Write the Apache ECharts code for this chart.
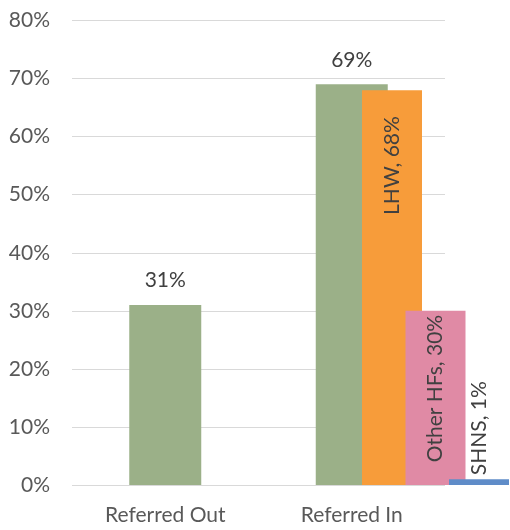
<!DOCTYPE html>
<html>
<head>
<meta charset="utf-8">
<script src="https://cdn.jsdelivr.net/npm/echarts@6/dist/echarts.min.js"></script>
<style>
html,body{margin:0;padding:0;background:#fff;}
#chart{width:510px;height:530px;}
</style>
</head>
<body>
<div id="chart"></div>
<script>
const categories = ['Referred Out', 'Referred In'];
const referralValues = [31, 69];
const breakdownNames = ['LHW', 'Other HFs', 'SHNS'];
const breakdownValues = [68, 30, 1];
const yTicks = [0, 10, 20, 30, 40, 50, 60, 70, 80];

const FONT = 'Lato';
const FS = 21;
const breakdownColors = ['#F79C3A', '#E08AA5', '#5F8CC8'];
const breakdownLabel = [
  { position: 'insideTop', distance: 26, align: 'right', verticalAlign: 'middle' },
  { position: 'insideTop', distance: 4, align: 'right', verticalAlign: 'middle' },
  { position: 'top', distance: 4, align: 'left', verticalAlign: 'middle' }
];

const chart = echarts.init(document.getElementById('chart'));
chart.setOption({
  animation: false,
  textStyle: { fontFamily: FONT },
  grid: [
    { left: 72, right: 65, top: 20.5, bottom: 45 },
    { left: 370.25, right: 9.25, top: 20.5, bottom: 45 }
  ],
  xAxis: [
    {
      type: 'category', gridIndex: 0, data: categories,
      axisLine: { show: false }, axisTick: { show: false },
      axisLabel: { color: '#595959', fontSize: FS, fontFamily: FONT, margin: 20 }
    },
    {
      type: 'category', gridIndex: 1, data: breakdownNames, show: false
    }
  ],
  yAxis: [
    {
      type: 'value', gridIndex: 0, min: yTicks[0], max: yTicks[yTicks.length - 1], interval: 10,
      axisLine: { show: false }, axisTick: { show: false },
      axisLabel: { color: '#595959', fontSize: FS, fontFamily: FONT, margin: 22, formatter: '{value}%' },
      splitLine: { lineStyle: { color: '#D9D9D9', width: 1 } }
    },
    {
      type: 'value', gridIndex: 1, min: yTicks[0], max: yTicks[yTicks.length - 1], interval: 10, show: false,
      splitLine: { show: false }
    }
  ],
  series: [
    {
      type: 'bar', xAxisIndex: 0, yAxisIndex: 0, barWidth: 72,
      data: referralValues,
      itemStyle: { color: '#9BB088' },
      label: { show: true, position: 'top', distance: 14, color: '#404040', fontSize: FS, fontFamily: FONT, formatter: '{c}%' }
    },
    {
      type: 'bar', xAxisIndex: 1, yAxisIndex: 1, barWidth: 60, clip: false,
      data: breakdownValues.map((v, i) => ({
        value: v,
        itemStyle: { color: breakdownColors[i] },
        label: Object.assign({
          show: true, rotate: 90, color: '#404040', fontSize: FS, fontFamily: FONT,
          formatter: breakdownNames[i] + ', ' + v + '%'
        }, breakdownLabel[i])
      }))
    }
  ]
});
</script>
</body>
</html>
